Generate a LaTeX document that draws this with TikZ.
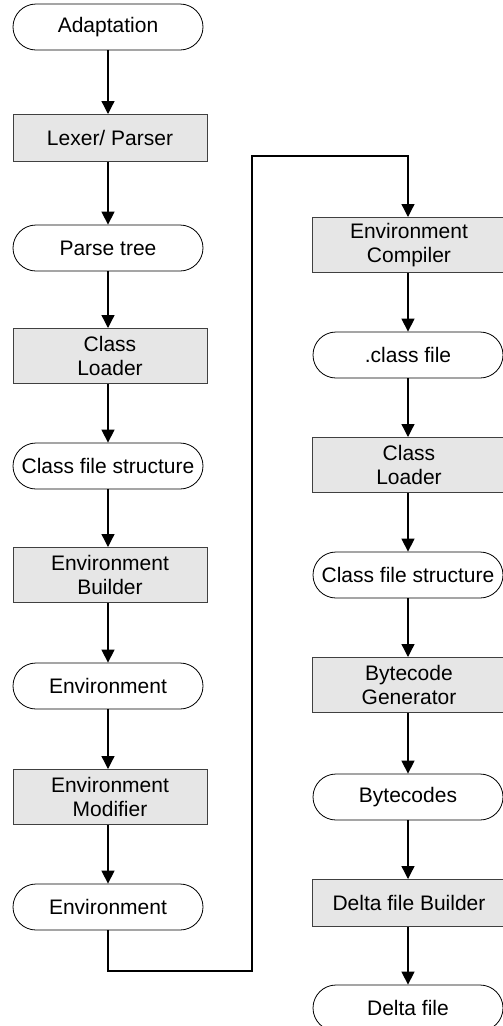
\documentclass[tikz,border=0pt]{standalone}
\usepackage{fontspec}
\setmainfont{Liberation Sans}
\usetikzlibrary{arrows.meta}

\definecolor{boxgray}{HTML}{E6E6E6}
\definecolor{edgegray}{HTML}{404040}

\begin{document}
\begin{tikzpicture}[x=1pt, y=-1pt,
    term/.style={draw=black, line width=0.8pt, rectangle, rounded corners=23pt,
        minimum width=190pt, minimum height=46pt, inner sep=0pt,
        font=\fontsize{21}{24}\selectfont},
    proc/.style={draw=edgegray, line width=1pt, fill=boxgray, rectangle,
        minimum width=194pt, minimum height=47pt, inner sep=0pt, align=center,
        font=\fontsize{21}{24}\selectfont},
    tall/.style={minimum height=55pt},
    flow/.style={-{Triangle[length=13pt, width=13pt]}, line width=1.3pt}]
    \useasboundingbox (0,0) rectangle (503,1026);

    % Left column
    \node[term] (adapt) at (108,27) {Adaptation};
    \node[proc] (lexer) at (110,138) {Lexer/ Parser};
    \node[term] (ptree) at (108,248) {Parse tree};
    \node[proc, tall] (loader) at (110,356) {Class\\Loader};
    \node[term] (cfs) at (108,466) {Class file structure};
    \node[proc, tall] (envbuild) at (110,575) {Environment\\Builder};
    \node[term] (env) at (108,686) {Environment};
    \node[proc, tall] (envmod) at (110,797) {Environment\\Modifier};
    \node[term] (envtwo) at (108,907) {Environment};

    % Right column
    \node[proc, tall] (compiler) at (409,245) {Environment\\Compiler};
    \node[term] (classfile) at (408,355) {.class file};
    \node[proc, tall] (loadertwo) at (409,465) {Class\\Loader};
    \node[term] (cfstwo) at (408,575) {Class file structure};
    \node[proc, tall] (bytegen) at (409,685) {Bytecode\\Generator};
    \node[term] (bytecodes) at (408,797) {Bytecodes};
    \node[proc] (deltabuild) at (409,903) {Delta file Builder};
    \node[term] (delta) at (408,1008) {Delta file};

    % Corners of the jump between columns
    \coordinate (jbot) at (252,971);
    \coordinate (jtop) at (252,156);

    % Flow
    \draw[flow] (adapt.south) -- (adapt.south |- lexer.north);
    \draw[flow] (lexer.south -| adapt) -- (ptree.north);
    \draw[flow] (ptree.south) -- (ptree.south |- loader.north);
    \draw[flow] (loader.south -| ptree) -- (cfs.north);
    \draw[flow] (cfs.south) -- (cfs.south |- envbuild.north);
    \draw[flow] (envbuild.south -| cfs) -- (env.north);
    \draw[flow] (env.south) -- (env.south |- envmod.north);
    \draw[flow] (envmod.south -| env) -- (envtwo.north);
    \draw[flow] (envtwo.south) |- (jbot) -- (jtop) -| (compiler.north -| classfile);
    \draw[flow] (compiler.south -| classfile) -- (classfile.north);
    \draw[flow] (classfile.south) -- (classfile.south |- loadertwo.north);
    \draw[flow] (loadertwo.south -| classfile) -- (cfstwo.north);
    \draw[flow] (cfstwo.south) -- (cfstwo.south |- bytegen.north);
    \draw[flow] (bytegen.south -| cfstwo) -- (bytecodes.north);
    \draw[flow] (bytecodes.south) -- (bytecodes.south |- deltabuild.north);
    \draw[flow] (deltabuild.south -| bytecodes) -- (delta.north);
\end{tikzpicture}
\end{document}
